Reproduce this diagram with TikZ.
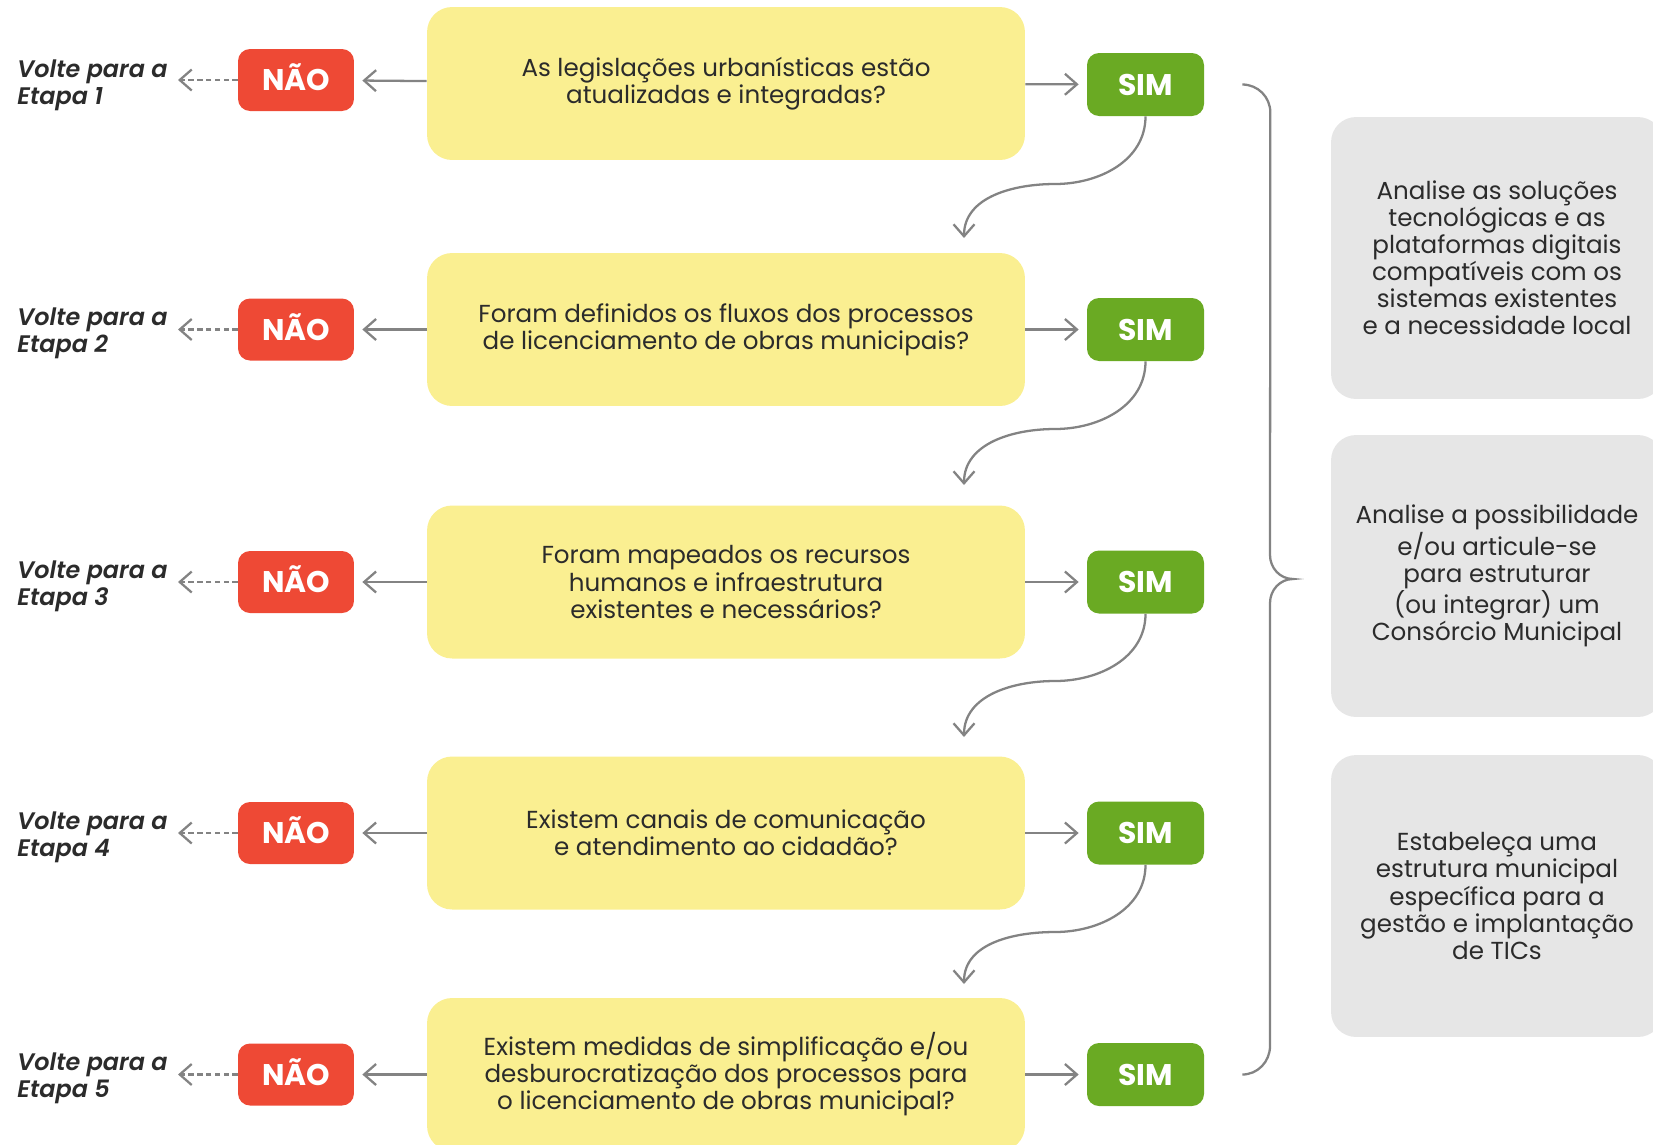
\documentclass[tikz,border=0pt]{standalone}
\usepackage{fontspec}
\setmainfont{Poppins}
\newfontfamily\voltefont{Poppins}[UprightFont=* SemiBold Italic]
\usetikzlibrary{arrows.meta}
\definecolor{qyellow}{HTML}{FAEF91}
\definecolor{naored}{HTML}{EE4935}
\definecolor{simgreen}{HTML}{6AAA23}
\definecolor{boxgray}{HTML}{E6E6E6}
\definecolor{linegray}{HTML}{838383}
\definecolor{txtgray}{HTML}{2B2B2B}
\begin{document}
\begin{tikzpicture}[x=0.02cm,y=0.02cm,
    >={Straight Barb[length=0.24cm,width=0.42cm]}]
            \useasboundingbox (0,0) rectangle (1653,-1144);
            \clip (0,0) rectangle (1653,-1144);

            \begin{scope}[every node/.style={rectangle,rounded corners=0.5cm,fill=qyellow,text=txtgray,
                    minimum width=11.96cm,minimum height=3.06cm,align=center,
                    font=\fontsize{14}{15.4}\selectfont}]
                \node (q1) at (726,-83.5) {As legislações urbanísticas estão\\atualizadas e integradas?};
                \node (q2) at (726,-329.5) {Foram definidos os fluxos dos processos\\de licenciamento de obras municipais?};
                \node (q3) at (726,-582) {Foram mapeados os recursos\\humanos e infraestrutura\\existentes e necessários?};
                \node (q4) at (726,-833) {Existem canais de comunicação\\e atendimento ao cidadão?};
                \node (q5) at (726,-1074.5) {Existem medidas de simplificação e/ou\\desburocratização dos processos para\\o licenciamento de obras municipal?};
            \end{scope}
            \begin{scope}[every node/.style={rectangle,rounded corners=0.24cm,fill=naored,text=white,
                    minimum width=2.32cm,minimum height=1.24cm,text height=12pt,text depth=0pt,
                    font=\bfseries\fontsize{17}{19}\selectfont}]
                \node (n1) at (296,-80) {NÃO};
                \node (n2) at (296,-329.5) {NÃO};
                \node (n3) at (296,-582) {NÃO};
                \node (n4) at (296,-833) {NÃO};
                \node (n5) at (296,-1074.5) {NÃO};
            \end{scope}
            \begin{scope}[every node/.style={rectangle,rounded corners=0.24cm,fill=simgreen,text=white,
                    minimum width=2.34cm,minimum height=1.26cm,text height=12pt,text depth=0pt,
                    font=\bfseries\fontsize{17}{19}\selectfont}]
                \node (s1) at (1145.5,-84.5) {SIM};
                \node (s2) at (1145.5,-329.5) {SIM};
                \node (s3) at (1145.5,-582) {SIM};
                \node (s4) at (1145.5,-833) {SIM};
                \node (s5) at (1145.5,-1074.5) {SIM};
            \end{scope}
            \begin{scope}[every node/.style={anchor=east,align=left,inner sep=0pt,text=txtgray,
                    font=\voltefont\fontsize{13.6}{15.4}\selectfont}]
                \node (v1) at (168,-85) {Volte para a\\Etapa 1};
                \node (v2) at (168,-333.5) {Volte para a\\Etapa 2};
                \node (v3) at (168,-586) {Volte para a\\Etapa 3};
                \node (v4) at (168,-837) {Volte para a\\Etapa 4};
                \node (v5) at (168,-1078.5) {Volte para a\\Etapa 5};
            \end{scope}
            \begin{scope}[every node/.style={rectangle,rounded corners=0.5cm,fill=boxgray,text=txtgray,
                    minimum width=6.64cm,minimum height=5.64cm,align=center,
                    font=\fontsize{14}{15.4}\selectfont}]
                \node (g1) at (1497,-258) {Analise as soluções\\tecnológicas e as\\plataformas digitais\\compatíveis com os\\sistemas existentes\\e a necessidade local};
                \node (g2) at (1497,-576) {Analise a possibilidade\\e/ou articule-se\\para estruturar\\(ou integrar) um\\Consórcio Municipal};
                \node (g3) at (1497,-896) {Estabeleça uma\\estrutura municipal\\específica para a\\gestão e implantação\\de TICs};
            \end{scope}

            % bends and ends of the curved arrows
            \coordinate (m2) at (1055,-184);
            \coordinate (c2) at (964,-238);
            \coordinate (m3) at (1055,-429);
            \coordinate (c3) at (964,-485);
            \coordinate (m4) at (1055,-681);
            \coordinate (c4) at (964,-737);
            \coordinate (m5) at (1055,-932);
            \coordinate (c5) at (964,-984);

            \begin{scope}[every edge/.style={draw,linegray,line width=1.3pt,->,shorten >=0.16cm}]
                \path
                    (q1) edge (n1)
                    (q2) edge (n2)
                    (q3) edge (n3)
                    (q4) edge (n4)
                    (q5) edge (n5)
                    (q1) edge (s1)
                    (q2) edge (s2)
                    (q3) edge (s3)
                    (q4) edge (s4)
                    (q5) edge (s5);
            \end{scope}
            \begin{scope}[every edge/.style={draw,linegray,line width=1.3pt,->,dash pattern=on 3pt off 2pt,shorten >=0.2cm}]
                \path
                    (n1.west) edge (v1.east |- n1.west)
                    (n2.west) edge (v2.east |- n2.west)
                    (n3.west) edge (v3.east |- n3.west)
                    (n4.west) edge (v4.east |- n4.west)
                    (n5.west) edge (v5.east |- n5.west);
            \end{scope}
            \begin{scope}[linegray,line width=1.3pt]
                \draw [->] (s1.south) to[out=-90,in=0] (m2) to[out=180,in=90] (c2);
                \draw [->] (s2.south) to[out=-90,in=0] (m3) to[out=180,in=90] (c3);
                \draw [->] (s3.south) to[out=-90,in=0] (m4) to[out=180,in=90] (c4);
                \draw [->] (s4.south) to[out=-90,in=0] (m5) to[out=180,in=90] (c5);
            \end{scope}

            \draw [linegray, line width=1.3pt] ([xshift=0.76cm]s1.east) to[out=0,in=90] ++(28,-28)
                -- (1270,-555) to[out=-90,in=180] (1293,-579) to[out=180,in=90] (1270,-603)
                -- (1270,-1046) to[out=-90,in=0] ([xshift=0.76cm]s5.east);
        \end{tikzpicture}
\end{document}
